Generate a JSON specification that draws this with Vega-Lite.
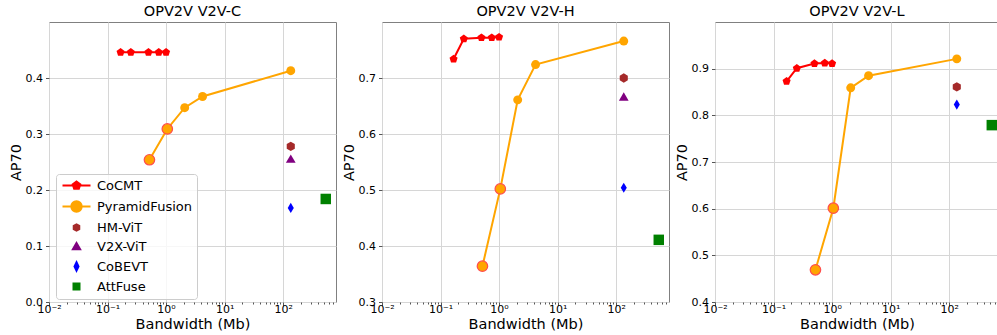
{
  "$schema": "https://vega.github.io/schema/vega-lite/v6.json",
  "datasets": {
    "d": [
      {"panel": "C", "method": "CoCMT", "bw": 0.167, "ap": 0.446},
      {"panel": "C", "method": "CoCMT", "bw": 0.25, "ap": 0.446},
      {"panel": "C", "method": "CoCMT", "bw": 0.5, "ap": 0.446},
      {"panel": "C", "method": "CoCMT", "bw": 0.75, "ap": 0.446},
      {"panel": "C", "method": "CoCMT", "bw": 1.0, "ap": 0.446},
      {"panel": "C", "method": "PyramidFusion", "bw": 0.52, "ap": 0.254},
      {"panel": "C", "method": "PyramidFusion", "bw": 1.05, "ap": 0.309},
      {"panel": "C", "method": "PyramidFusion", "bw": 2.08, "ap": 0.347},
      {"panel": "C", "method": "PyramidFusion", "bw": 4.2, "ap": 0.367},
      {"panel": "C", "method": "PyramidFusion", "bw": 135, "ap": 0.413},
      {"panel": "C", "method": "HM-ViT", "bw": 135, "ap": 0.278},
      {"panel": "C", "method": "V2X-ViT", "bw": 135, "ap": 0.256},
      {"panel": "C", "method": "CoBEVT", "bw": 135, "ap": 0.168},
      {"panel": "C", "method": "AttFuse", "bw": 535, "ap": 0.184},
      {"panel": "H", "method": "CoCMT", "bw": 0.167, "ap": 0.734},
      {"panel": "H", "method": "CoCMT", "bw": 0.25, "ap": 0.77},
      {"panel": "H", "method": "CoCMT", "bw": 0.5, "ap": 0.772},
      {"panel": "H", "method": "CoCMT", "bw": 0.75, "ap": 0.772},
      {"panel": "H", "method": "CoCMT", "bw": 1.0, "ap": 0.773},
      {"panel": "H", "method": "PyramidFusion", "bw": 0.52, "ap": 0.364},
      {"panel": "H", "method": "PyramidFusion", "bw": 1.05, "ap": 0.502},
      {"panel": "H", "method": "PyramidFusion", "bw": 2.08, "ap": 0.661},
      {"panel": "H", "method": "PyramidFusion", "bw": 4.2, "ap": 0.724},
      {"panel": "H", "method": "PyramidFusion", "bw": 135, "ap": 0.766},
      {"panel": "H", "method": "HM-ViT", "bw": 135, "ap": 0.7},
      {"panel": "H", "method": "V2X-ViT", "bw": 135, "ap": 0.667},
      {"panel": "H", "method": "CoBEVT", "bw": 135, "ap": 0.504},
      {"panel": "H", "method": "AttFuse", "bw": 535, "ap": 0.411},
      {"panel": "L", "method": "CoCMT", "bw": 0.167, "ap": 0.873},
      {"panel": "L", "method": "CoCMT", "bw": 0.25, "ap": 0.901},
      {"panel": "L", "method": "CoCMT", "bw": 0.5, "ap": 0.911},
      {"panel": "L", "method": "CoCMT", "bw": 0.75, "ap": 0.912},
      {"panel": "L", "method": "CoCMT", "bw": 1.0, "ap": 0.911},
      {"panel": "L", "method": "PyramidFusion", "bw": 0.52, "ap": 0.469},
      {"panel": "L", "method": "PyramidFusion", "bw": 1.05, "ap": 0.601},
      {"panel": "L", "method": "PyramidFusion", "bw": 2.08, "ap": 0.859},
      {"panel": "L", "method": "PyramidFusion", "bw": 4.2, "ap": 0.885},
      {"panel": "L", "method": "PyramidFusion", "bw": 135, "ap": 0.921},
      {"panel": "L", "method": "HM-ViT", "bw": 135, "ap": 0.861},
      {"panel": "L", "method": "CoBEVT", "bw": 135, "ap": 0.823},
      {"panel": "L", "method": "AttFuse", "bw": 535, "ap": 0.779}
    ]
  },
  "data": {"name": "d"},
  "padding": {"left": 7, "top": 3, "right": 0, "bottom": 0},
  "bounds": "flush",
  "spacing": 46,
  "hconcat": [
    {
      "width": 287, "height": 280,
      "title": {"text": "OPV2V V2V-C", "fontWeight": "normal", "font": "DejaVu Sans", "fontSize": 14.5},
      "transform": [{"filter": "datum.panel === 'C'"}],
      "encoding": {
        "x": {"field": "bw", "type": "quantitative", "title": "Bandwidth (Mb)",
          "scale": {"type": "log", "domain": [0.01, 800], "nice": false},
          "axis": {"values": [0.01,0.02,0.03,0.04,0.05,0.06,0.07,0.08,0.09,0.1,0.2,0.3,0.4,0.5,0.6,0.7,0.8,0.9,1,2,3,4,5,6,7,8,9,10,20,30,40,50,60,70,80,90,100,200,300,400,500,600,700],
            "labelExpr": "datum.value === 0.01 ? '10⁻²' : datum.value === 0.1 ? '10⁻¹' : datum.value === 1 ? '10⁰' : datum.value === 10 ? '10¹' : datum.value === 100 ? '10²' : ''",
            "titleFontWeight": "normal", "titleFont": "DejaVu Sans",
            "gridOpacity": {"condition": {"test": "indexof([0.01,0.1,1,10,100], datum.value) >= 0", "value": 1}, "value": 0},
            "tickSize": {"condition": {"test": "indexof([0.01,0.1,1,10,100], datum.value) >= 0", "value": 3.5}, "value": 2}}},
        "y": {"field": "ap", "type": "quantitative", "title": "AP70",
          "scale": {"domain": [0, 0.5], "nice": false, "zero": false},
          "axis": {"values": [0, 0.1, 0.2, 0.3, 0.4], "format": ".1f", "titleFontWeight": "normal", "titleFont": "DejaVu Sans"}}
      },
      "layer": [
        {"transform": [{"filter": "datum.method === 'CoCMT' || datum.method === 'PyramidFusion'"}],
         "mark": {"type": "line", "strokeWidth": 2},
         "encoding": {"color": {"field": "method", "type": "nominal", "legend": null,
           "scale": {"domain": ["CoCMT","PyramidFusion","HM-ViT","V2X-ViT","CoBEVT","AttFuse"], "range": ["#ff0000","#ffa500","#a52a2a","#800080","#0000ff","#008000"]}}}},
        {"mark": {"type": "point", "filled": true, "opacity": 1},
         "encoding": {
           "color": {"field": "method", "type": "nominal", "legend": null},
           "shape": {"field": "method", "type": "nominal", "legend": null,
             "scale": {"domain": ["CoCMT","PyramidFusion","HM-ViT","V2X-ViT","CoBEVT","AttFuse"],
               "range": ["M0,-1L0.951,-0.309L0.588,0.809L-0.588,0.809L-0.951,-0.309Z","circle","M0,-1L0.866,-0.5L0.866,0.5L0,1L-0.866,0.5L-0.866,-0.5Z","triangle-up","M0,-1L0.6,0L0,1L-0.6,0Z","square"]}},
           "size": {"field": "method", "type": "nominal", "legend": null,
             "scale": {"domain": ["CoCMT","PyramidFusion","HM-ViT","V2X-ViT","CoBEVT","AttFuse"], "range": [72,110,64,64,110,56]}}}},
        {"transform": [{"filter": "datum.method === 'PyramidFusion' && datum.bw < 1.5"}],
         "mark": {"type": "point", "shape": "circle", "filled": true, "fill": "#ffa500", "stroke": "#ff4d4d", "strokeWidth": 1.2, "size": 110, "opacity": 1}},
        {"mark": {"type": "point", "filled": true, "opacity": 0},
         "encoding": {
           "shape": {"field": "method", "type": "nominal", "legend": {"title": null},
             "scale": {"domain": ["CoCMT","PyramidFusion","HM-ViT","V2X-ViT","CoBEVT","AttFuse"],
               "range": ["M-3.5,0L3.5,0M0,-1L0.951,-0.309L0.588,0.809L-0.588,0.809L-0.951,-0.309Z","M-3.5,0L3.5,0M1.3,0A1.3,1.3,0,1,1,-1.3,0A1.3,1.3,0,1,1,1.3,0Z","M0,-0.8L0.693,-0.4L0.693,0.4L0,0.8L-0.693,0.4L-0.693,-0.4Z","M0,-0.85L0.9,0.7L-0.9,0.7Z","M0,-1.05L0.5,0L0,1.05L-0.5,0Z","M-0.75,-0.75L0.75,-0.75L0.75,0.75L-0.75,0.75Z"]}},
           "fill": {"field": "method", "type": "nominal", "legend": {"title": null},
             "scale": {"domain": ["CoCMT","PyramidFusion","HM-ViT","V2X-ViT","CoBEVT","AttFuse"], "range": ["#ff0000","#ffa500","#a52a2a","#800080","#0000ff","#008000"]}},
           "stroke": {"field": "method", "type": "nominal", "legend": {"title": null},
             "scale": {"domain": ["CoCMT","PyramidFusion","HM-ViT","V2X-ViT","CoBEVT","AttFuse"], "range": ["#ff0000","#ffa500","#a52a2a","#800080","#0000ff","#008000"]}}}}
      ],
      "resolve": {"scale": {"shape": "independent", "size": "independent", "fill": "independent", "stroke": "independent"}}
    },
    {
      "width": 287, "height": 280,
      "title": {"text": "OPV2V V2V-H", "fontWeight": "normal", "font": "DejaVu Sans", "fontSize": 14.5},
      "transform": [{"filter": "datum.panel === 'H'"}],
      "encoding": {
        "x": {"field": "bw", "type": "quantitative", "title": "Bandwidth (Mb)",
          "scale": {"type": "log", "domain": [0.01, 800], "nice": false},
          "axis": {"values": [0.01,0.02,0.03,0.04,0.05,0.06,0.07,0.08,0.09,0.1,0.2,0.3,0.4,0.5,0.6,0.7,0.8,0.9,1,2,3,4,5,6,7,8,9,10,20,30,40,50,60,70,80,90,100,200,300,400,500,600,700],
            "labelExpr": "datum.value === 0.01 ? '10⁻²' : datum.value === 0.1 ? '10⁻¹' : datum.value === 1 ? '10⁰' : datum.value === 10 ? '10¹' : datum.value === 100 ? '10²' : ''",
            "titleFontWeight": "normal", "titleFont": "DejaVu Sans",
            "gridOpacity": {"condition": {"test": "indexof([0.01,0.1,1,10,100], datum.value) >= 0", "value": 1}, "value": 0},
            "tickSize": {"condition": {"test": "indexof([0.01,0.1,1,10,100], datum.value) >= 0", "value": 3.5}, "value": 2}}},
        "y": {"field": "ap", "type": "quantitative", "title": "AP70",
          "scale": {"domain": [0.3, 0.8], "nice": false, "zero": false},
          "axis": {"values": [0.3, 0.4, 0.5, 0.6, 0.7], "format": ".1f", "titleFontWeight": "normal", "titleFont": "DejaVu Sans"}}
      },
      "layer": [
        {"transform": [{"filter": "datum.method === 'CoCMT' || datum.method === 'PyramidFusion'"}],
         "mark": {"type": "line", "strokeWidth": 2},
         "encoding": {"color": {"field": "method", "type": "nominal", "legend": null,
           "scale": {"domain": ["CoCMT","PyramidFusion","HM-ViT","V2X-ViT","CoBEVT","AttFuse"], "range": ["#ff0000","#ffa500","#a52a2a","#800080","#0000ff","#008000"]}}}},
        {"mark": {"type": "point", "filled": true, "opacity": 1},
         "encoding": {
           "color": {"field": "method", "type": "nominal", "legend": null},
           "shape": {"field": "method", "type": "nominal", "legend": null,
             "scale": {"domain": ["CoCMT","PyramidFusion","HM-ViT","V2X-ViT","CoBEVT","AttFuse"],
               "range": ["M0,-1L0.951,-0.309L0.588,0.809L-0.588,0.809L-0.951,-0.309Z","circle","M0,-1L0.866,-0.5L0.866,0.5L0,1L-0.866,0.5L-0.866,-0.5Z","triangle-up","M0,-1L0.6,0L0,1L-0.6,0Z","square"]}},
           "size": {"field": "method", "type": "nominal", "legend": null,
             "scale": {"domain": ["CoCMT","PyramidFusion","HM-ViT","V2X-ViT","CoBEVT","AttFuse"], "range": [72,110,64,64,110,56]}}}},
        {"transform": [{"filter": "datum.method === 'PyramidFusion' && datum.bw < 1.5"}],
         "mark": {"type": "point", "shape": "circle", "filled": true, "fill": "#ffa500", "stroke": "#ff4d4d", "strokeWidth": 1.2, "size": 110, "opacity": 1}}
      ]
    },
    {
      "width": 284, "height": 280,
      "title": {"text": "OPV2V V2V-L", "fontWeight": "normal", "font": "DejaVu Sans", "fontSize": 14.5},
      "transform": [{"filter": "datum.panel === 'L'"}],
      "encoding": {
        "x": {"field": "bw", "type": "quantitative", "title": "Bandwidth (Mb)",
          "scale": {"type": "log", "domain": [0.01, 710], "nice": false},
          "axis": {"values": [0.01,0.02,0.03,0.04,0.05,0.06,0.07,0.08,0.09,0.1,0.2,0.3,0.4,0.5,0.6,0.7,0.8,0.9,1,2,3,4,5,6,7,8,9,10,20,30,40,50,60,70,80,90,100,200,300,400,500,600,700],
            "labelExpr": "datum.value === 0.01 ? '10⁻²' : datum.value === 0.1 ? '10⁻¹' : datum.value === 1 ? '10⁰' : datum.value === 10 ? '10¹' : datum.value === 100 ? '10²' : ''",
            "titleFontWeight": "normal", "titleFont": "DejaVu Sans",
            "gridOpacity": {"condition": {"test": "indexof([0.01,0.1,1,10,100], datum.value) >= 0", "value": 1}, "value": 0},
            "tickSize": {"condition": {"test": "indexof([0.01,0.1,1,10,100], datum.value) >= 0", "value": 3.5}, "value": 2}}},
        "y": {"field": "ap", "type": "quantitative", "title": "AP70",
          "scale": {"domain": [0.4, 1.0], "nice": false, "zero": false},
          "axis": {"values": [0.4, 0.5, 0.6, 0.7, 0.8, 0.9], "format": ".1f", "titleFontWeight": "normal", "titleFont": "DejaVu Sans"}}
      },
      "layer": [
        {"transform": [{"filter": "datum.method === 'CoCMT' || datum.method === 'PyramidFusion'"}],
         "mark": {"type": "line", "strokeWidth": 2},
         "encoding": {"color": {"field": "method", "type": "nominal", "legend": null,
           "scale": {"domain": ["CoCMT","PyramidFusion","HM-ViT","V2X-ViT","CoBEVT","AttFuse"], "range": ["#ff0000","#ffa500","#a52a2a","#800080","#0000ff","#008000"]}}}},
        {"mark": {"type": "point", "filled": true, "opacity": 1},
         "encoding": {
           "color": {"field": "method", "type": "nominal", "legend": null},
           "shape": {"field": "method", "type": "nominal", "legend": null,
             "scale": {"domain": ["CoCMT","PyramidFusion","HM-ViT","V2X-ViT","CoBEVT","AttFuse"],
               "range": ["M0,-1L0.951,-0.309L0.588,0.809L-0.588,0.809L-0.951,-0.309Z","circle","M0,-1L0.866,-0.5L0.866,0.5L0,1L-0.866,0.5L-0.866,-0.5Z","triangle-up","M0,-1L0.6,0L0,1L-0.6,0Z","square"]}},
           "size": {"field": "method", "type": "nominal", "legend": null,
             "scale": {"domain": ["CoCMT","PyramidFusion","HM-ViT","V2X-ViT","CoBEVT","AttFuse"], "range": [72,110,64,64,110,56]}}}},
        {"transform": [{"filter": "datum.method === 'PyramidFusion' && datum.bw < 1.5"}],
         "mark": {"type": "point", "shape": "circle", "filled": true, "fill": "#ffa500", "stroke": "#ff4d4d", "strokeWidth": 1.2, "size": 110, "opacity": 1}}
      ]
    }
  ],
  "config": {
    "font": "DejaVu Sans",
    "view": {"stroke": "#808080", "strokeWidth": 1},
    "axis": {"domain": false, "labelFont": "DejaVu Sans", "labelFontSize": 11, "labelColor": "black",
      "titleFont": "DejaVu Sans", "titleFontSize": 14.5, "titleFontWeight": "normal", "titleColor": "black",
      "gridColor": "#d6d6d6", "gridWidth": 1, "tickColor": "#555555", "tickSize": 3.5, "labelPadding": 3,
      "labelFlush": false, "labelOverlap": false},
    "axisX": {"titlePadding": 2.5, "labelPadding": -2},
    "axisY": {"titlePadding": 2},
    "title": {"font": "DejaVu Sans", "fontSize": 14.5, "fontWeight": "normal", "color": "black", "offset": 3},
    "legend": {"orient": "none", "legendX": 7, "legendY": 152, "symbolSize": 64, "symbolStrokeWidth": 2,
      "symbolOpacity": 1, "labelFont": "DejaVu Sans", "labelFontSize": 13, "labelColor": "black",
      "padding": 5, "symbolOffset": 9, "labelOffset": 14, "rowPadding": 4, "strokeColor": "#cccccc",
      "fillColor": "rgba(255,255,255,0.8)", "cornerRadius": 3}
  }
}
